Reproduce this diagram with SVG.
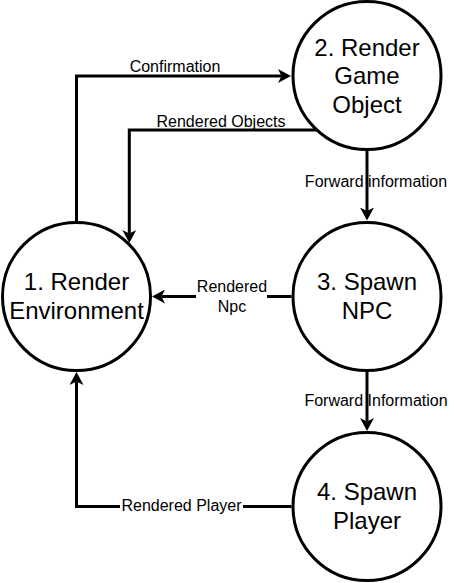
<svg xmlns="http://www.w3.org/2000/svg" width="457" height="583" viewBox="0 0 457 583">
<style>
.node{fill:#fff;stroke:#000;stroke-width:3}
.nt{font-family:"Liberation Sans",Arial,sans-serif;font-size:24px;text-anchor:middle;fill:#000}
.et{font-family:"Liberation Sans",Arial,sans-serif;font-size:16px;text-anchor:middle;fill:#000}
.edge{fill:none;stroke:#000;stroke-width:3;marker-end:url(#arr)}
.bg{fill:#fff}
</style>
<defs>
<marker id="arr" markerUnits="userSpaceOnUse" markerWidth="14" markerHeight="14" refX="3.5" refY="7" orient="auto">
<path d="M0,0 L13,7 L0,14 L3.5,7 Z" fill="#000"/>
</marker>
</defs>
<rect width="457" height="583" fill="#fff"/>
<g id="connectors">
<path class="edge" d="M76.5,221 V76 H281.5"/>
<path class="edge" d="M317,130 H129.3 V233.5"/>
<path class="edge" d="M367,151 V211"/>
<path class="edge" d="M291.5,296.5 H161.5"/>
<path class="edge" d="M367,372 V421.5"/>
<path class="edge" d="M291.5,506.5 H76.5 V381.5"/>
<text class="et" x="175" y="72">Confirmation</text>
<text class="et" x="221" y="126.5">Rendered Objects</text>
<text class="et" x="376" y="186.5">Forward information</text>
<rect class="bg" x="196" y="279" width="71" height="37"/>
<text class="et" x="232" y="292">Rendered</text>
<text class="et" x="232" y="311.5">Npc</text>
<text class="et" x="376" y="406">Forward Information</text>
<rect class="bg" x="120" y="497" width="123" height="19"/>
<text class="et" x="181.5" y="511">Rendered Player</text>
</g>
<g id="node1">
<circle class="node" cx="76.5" cy="296.5" r="74"/>
<text class="nt" x="76.5" y="290">1. Render</text>
<text class="nt" x="76.5" y="318.5">Environment</text>
</g>
<g id="node2">
<circle class="node" cx="367" cy="75.5" r="74"/>
<text class="nt" x="367" y="55.5">2. Render</text>
<text class="nt" x="367" y="84">Game</text>
<text class="nt" x="367" y="112.5">Object</text>
</g>
<g id="node3">
<circle class="node" cx="367" cy="296.5" r="74"/>
<text class="nt" x="367" y="290">3. Spawn</text>
<text class="nt" x="367" y="318.5">NPC</text>
</g>
<g id="node4">
<circle class="node" cx="367" cy="506.5" r="74"/>
<text class="nt" x="367" y="500">4. Spawn</text>
<text class="nt" x="367" y="528.5">Player</text>
</g>
</svg>
